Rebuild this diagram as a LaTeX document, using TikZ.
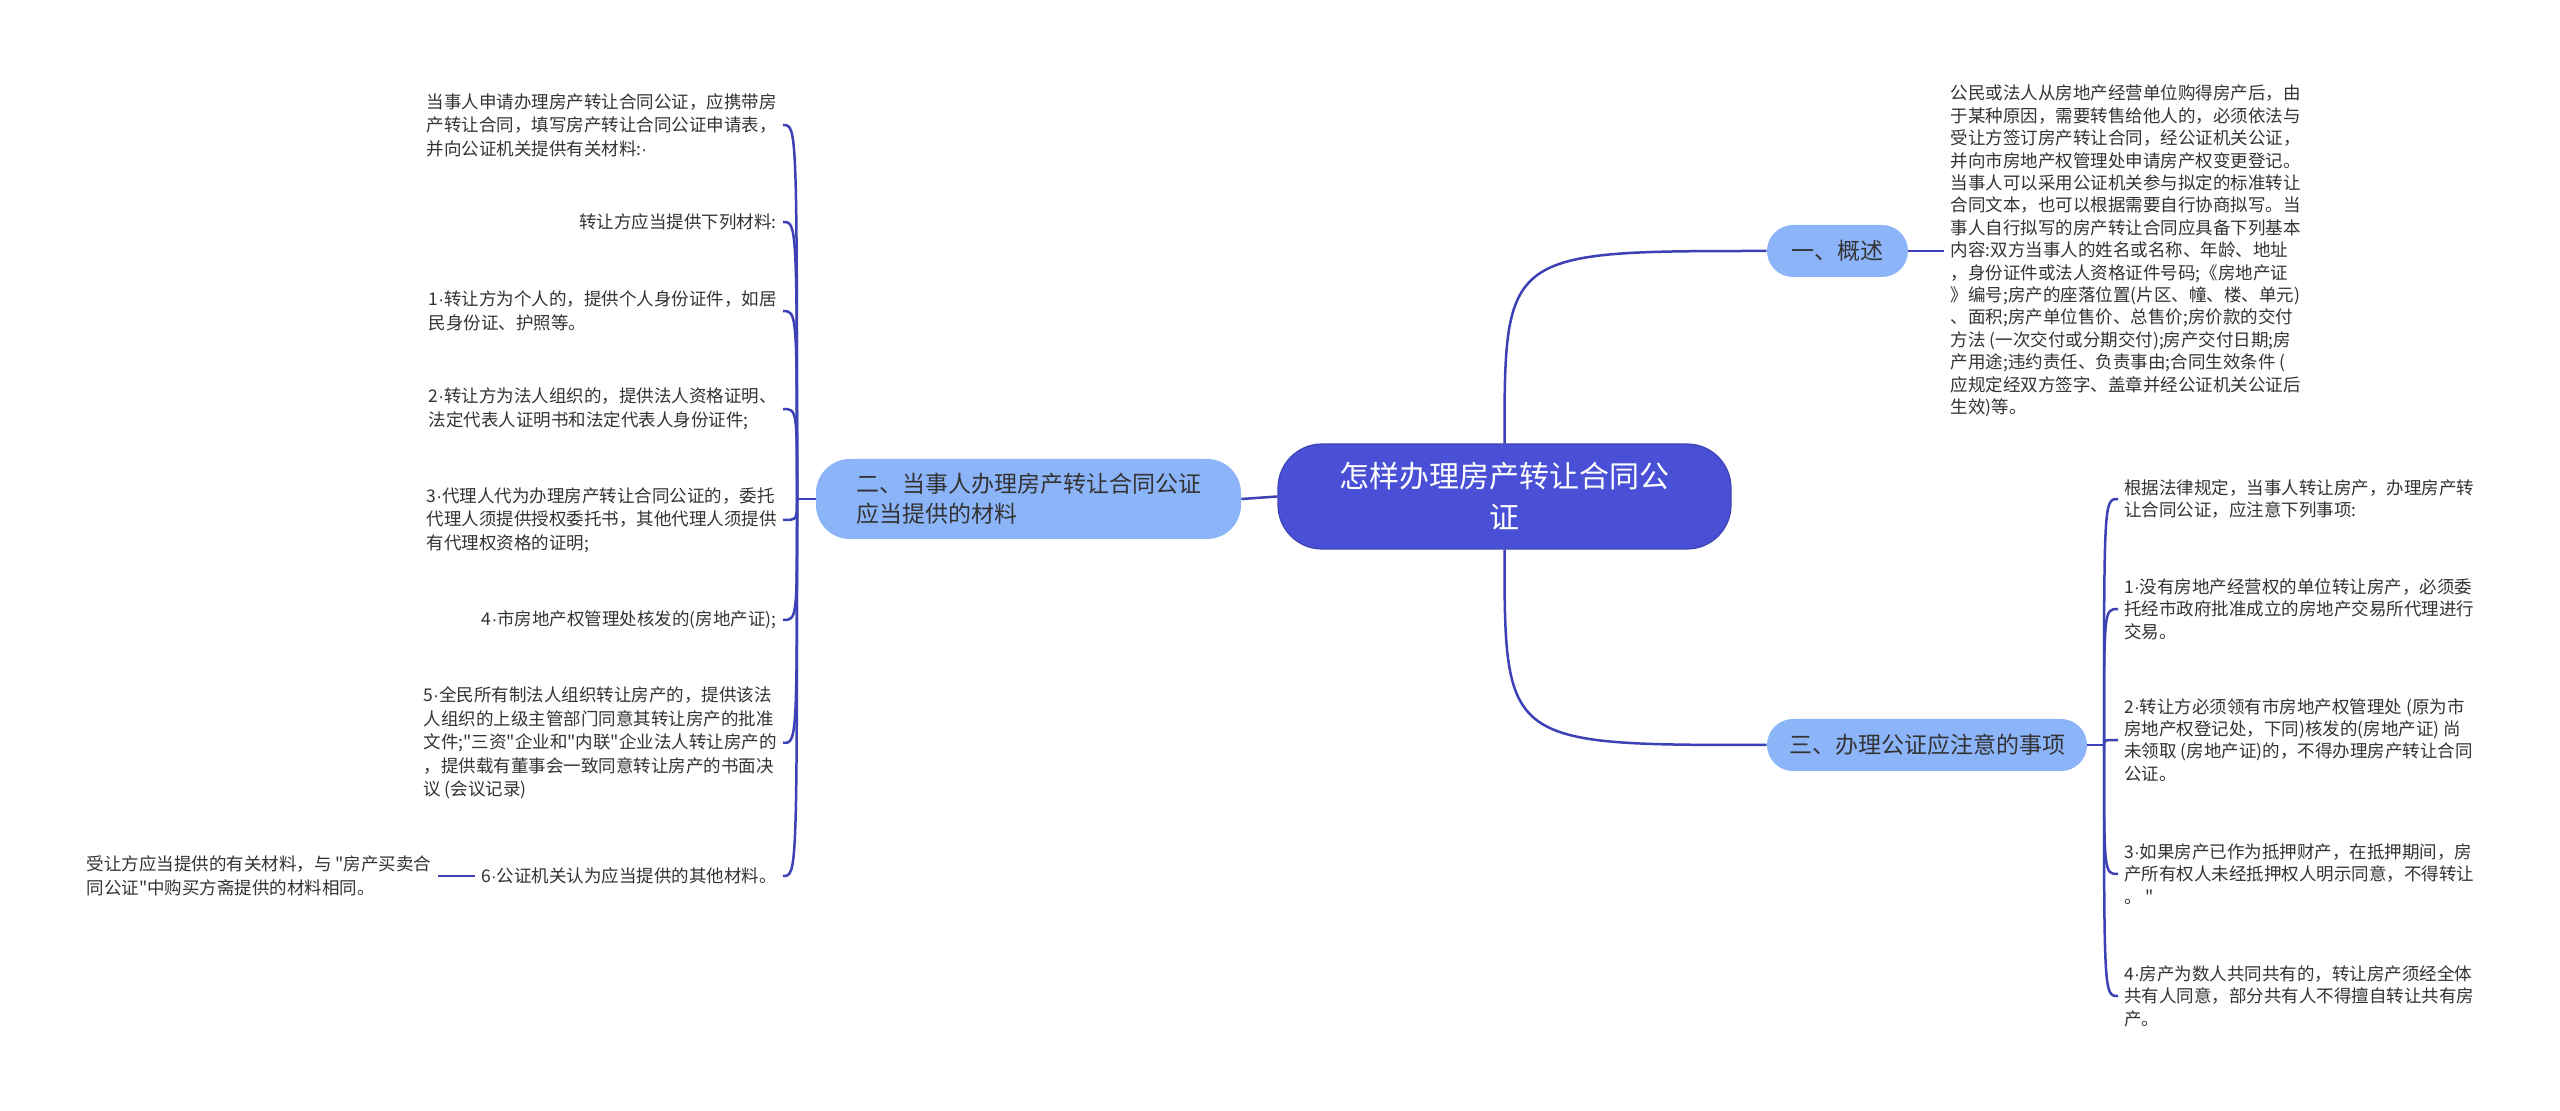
\documentclass[tikz,border=0pt]{standalone}
\usepackage{fontspec}
\setmainfont{Noto Sans CJK SC}[Ligatures=TeXOff]
\newfontfamily\latinfont{Liberation Sans}
\newcommand\dt{{\latinfont ·}}
\usetikzlibrary{positioning}
\definecolor{rootblue}{HTML}{4A50D5}
\definecolor{branchblue}{HTML}{8CB4F8}
\definecolor{linkblue}{HTML}{3C41B5}
\definecolor{textgray}{HTML}{333333}

\begin{document}
\begin{tikzpicture}[x=0.5pt,y=-0.5pt,
  link/.style={draw=linkblue,line width=1.25pt},
  leaf/.style={text=textgray,align=left,inner sep=3pt,font=\fontsize{8.75}{11.2}\selectfont},
  leftleaf/.style={leaf,anchor=east,font=\fontsize{8.75}{11.8}\selectfont},
  branch/.style={fill=branchblue,text=textgray,align=left,inner sep=0pt,font=\fontsize{11.5}{15}\selectfont},
  rootnode/.style={fill=rootblue,draw=rootblue!85!black,line width=0.6pt,text=white,align=center,inner sep=0pt,
    rounded corners=22pt,font=\fontsize{15}{20.5}\selectfont}]
\fill[white] (0,0) rectangle (2560,1111);
\useasboundingbox (0,0) rectangle (2560,1111);

% centre and main topics
\node[rootnode,minimum width=226.5pt,minimum height=52.5pt] (root) at (1504.5,496.5) {怎样办理房产转让合同公\\证};
\node[branch,rounded corners=17pt,minimum width=212.5pt,minimum height=40pt] (cailiao) at (1028.5,499) {二、当事人办理房产转让合同公证\\应当提供的材料};
\node[branch,rounded corners=13pt,minimum width=70.5pt,minimum height=26pt] (gaishu) at (1837.5,251) {一、概述};
\node[branch,rounded corners=13pt,minimum width=160pt,minimum height=26pt] (zhuyi) at (1927,745) {三、办理公证应注意的事项};

\coordinate (jl) at (797,499);
\coordinate (jr) at (2104,745);

% left: materials
\node[leftleaf] (m0) at (783,125) {当事人申请办理房产转让合同公证，应携带房\\产转让合同，填写房产转让合同公证申请表，\\并向公证机关提供有关材料:\dt};
\node[leftleaf] (m1) at (783,222) {转让方应当提供下列材料:};
\node[leftleaf] (m2) at (783,311) {1\dt 转让方为个人的，提供个人身份证件，如居\\民身份证、护照等。};
\node[leftleaf] (m3) at (783,409) {2\dt 转让方为法人组织的，提供法人资格证明、\\法定代表人证明书和法定代表人身份证件;};
\node[leftleaf] (m4) at (783,520) {3\dt 代理人代为办理房产转让合同公证的，委托\\代理人须提供授权委托书，其他代理人须提供\\有代理权资格的证明;};
\node[leftleaf] (m5) at (783,620) {4\dt 市房地产权管理处核发的(房地产证);};
\node[leftleaf] (m6) at (783,743) {5\dt 全民所有制法人组织转让房产的，提供该法\\人组织的上级主管部门同意其转让房产的批准\\文件;"三资"企业和"内联"企业法人转让房产的\\，提供载有董事会一致同意转让房产的书面决\\议 (会议记录)};
\node[leftleaf] (m7) at (783,876) {6\dt 公证机关认为应当提供的其他材料。};
\node[leaf,left=18.5pt of m7,font=\fontsize{8.75}{11.8}\selectfont] (m7a) {受让方应当提供的有关材料，与 "房产买卖合\\同公证"中购买方斋提供的材料相同。};

% right: overview
\node[leaf,right=18pt of gaishu] (g0) {公民或法人从房地产经营单位购得房产后，由\\于某种原因，需要转售给他人的，必须依法与\\受让方签订房产转让合同，经公证机关公证，\\并向市房地产权管理处申请房产权变更登记。\\当事人可以采用公证机关参与拟定的标准转让\\合同文本，也可以根据需要自行协商拟写。当\\事人自行拟写的房产转让合同应具备下列基本\\内容:双方当事人的姓名或名称、年龄、地址\\，身份证件或法人资格证件号码;《房地产证\\》编号;房产的座落位置(片区、幢、楼、单元)\\、面积;房产单位售价、总售价;房价款的交付\\方法 (一次交付或分期交付);房产交付日期;房\\产用途;违约责任、负责事由;合同生效条件 (\\应规定经双方签字、盖章并经公证机关公证后\\生效)等。};

% right: points to note
\node[leaf,anchor=west] (z0) at (2118,499) {根据法律规定，当事人转让房产，办理房产转\\让合同公证，应注意下列事项:};
\node[leaf,anchor=west] (z1) at (2118,609) {1\dt 没有房地产经营权的单位转让房产，必须委\\托经市政府批准成立的房地产交易所代理进行\\交易。};
\node[leaf,anchor=west] (z2) at (2118,740) {2\dt 转让方必须领有市房地产权管理处 (原为市\\房地产权登记处，下同)核发的(房地产证) 尚\\未领取 (房地产证)的，不得办理房产转让合同\\公证。};
\node[leaf,anchor=west] (z3) at (2118,874) {3\dt 如果房产已作为抵押财产，在抵押期间，房\\产所有权人未经抵押权人明示同意，不得转让\\。\ "};
\node[leaf,anchor=west] (z4) at (2118,996) {4\dt 房产为数人共同共有的，转让房产须经全体\\共有人同意，部分共有人不得擅自转让共有房\\产。};

% connectors
\draw[link] (root.west) -- (cailiao.east);
\draw[link] (root.north) .. controls (root.north |- gaishu.west) .. (gaishu.west);
\draw[link] (root.south) .. controls (root.south |- zhuyi.west) .. (zhuyi.west);
\draw[link] (gaishu.east) -- (g0.west);
\draw[link] (cailiao.west) -- (jl);
\draw[link] (jl) .. controls (jl |- m0.east) .. (m0.east);
\draw[link] (jl) .. controls (jl |- m1.east) .. (m1.east);
\draw[link] (jl) .. controls (jl |- m2.east) .. (m2.east);
\draw[link] (jl) .. controls (jl |- m3.east) .. (m3.east);
\draw[link] (jl) .. controls (jl |- m4.east) .. (m4.east);
\draw[link] (jl) .. controls (jl |- m5.east) .. (m5.east);
\draw[link] (jl) .. controls (jl |- m6.east) .. (m6.east);
\draw[link] (jl) .. controls (jl |- m7.east) .. (m7.east);
\draw[link] (m7.west) -- (m7a.east);
\draw[link] (zhuyi.east) -- (jr);
\draw[link] (jr) .. controls (jr |- z0.west) .. (z0.west);
\draw[link] (jr) .. controls (jr |- z1.west) .. (z1.west);
\draw[link] (jr) .. controls (jr |- z2.west) .. (z2.west);
\draw[link] (jr) .. controls (jr |- z3.west) .. (z3.west);
\draw[link] (jr) .. controls (jr |- z4.west) .. (z4.west);
\end{tikzpicture}
\end{document}
